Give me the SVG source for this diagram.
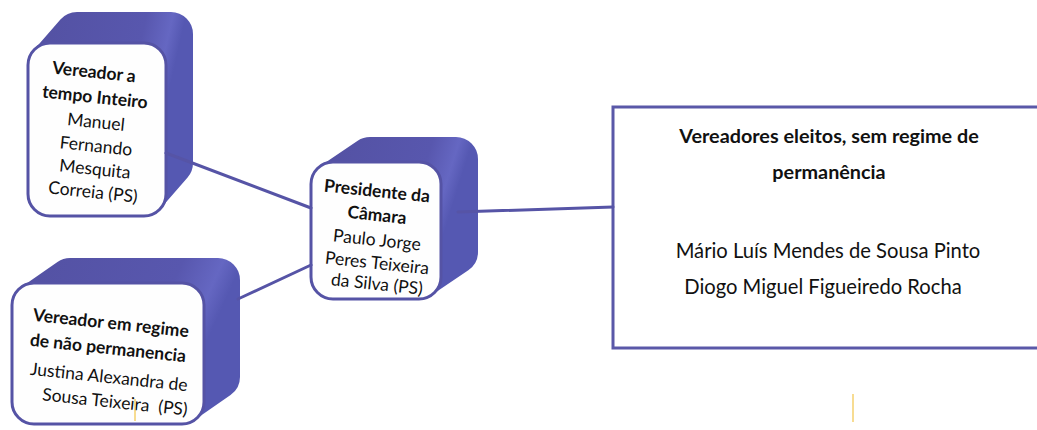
<svg xmlns="http://www.w3.org/2000/svg" width="1037" height="430" viewBox="0 0 1037 430">
<defs>
<linearGradient id="bev" x1="0" y1="0" x2="1" y2="0.3">
<stop offset="0" stop-color="#5452a4"/>
<stop offset="0.7" stop-color="#5857ae"/>
<stop offset="0.9" stop-color="#6567c2"/>
<stop offset="1" stop-color="#5558b2"/>
</linearGradient>
<style>
.ext{fill:url(#bev);stroke:url(#bev);stroke-width:44;stroke-linejoin:round}
.face{fill:#fefefe;stroke:#5553a5;stroke-width:3}
.conn{stroke:#5654a6;stroke-width:3;fill:none;stroke-linecap:round}
.b{font-family:Lato,"Liberation Sans",sans-serif;font-weight:bold;font-size:17.5px;fill:#111;text-anchor:middle}
.r{font-family:Lato,"Liberation Sans",sans-serif;font-size:17.5px;fill:#111;text-anchor:middle}
.rb{font-family:Lato,"Liberation Sans",sans-serif;font-weight:bold;font-size:19.8px;fill:#111;text-anchor:middle}
.rr{font-family:Lato,"Liberation Sans",sans-serif;font-size:20.2px;fill:#111;text-anchor:middle}
</style>
</defs>
<rect width="1037" height="430" fill="#ffffff"/>

<g id="node-vereador-tempo-inteiro">
<polygon class="ext" points="50,65 77,34 171,34 171,163 144,194 50,194"/>
<rect class="face" x="28" y="43" width="138" height="173" rx="22"/>
<text class="b" x="94" y="78" transform="rotate(6 94 72)">Vereador a</text>
<text class="b" x="95" y="103" transform="rotate(6 95 97)">tempo Inteiro</text>
<text class="r" x="96" y="128" transform="rotate(6 96 122)">Manuel</text>
<text class="r" x="96" y="152" transform="rotate(6 96 146)">Fernando</text>
<text class="r" x="95" y="175" transform="rotate(6 95 169)">Mesquita</text>
<text class="r" x="93" y="198" transform="rotate(6 93 192)">Correia (PS)</text>
</g>

<g id="node-presidente">
<polygon class="ext" points="333,184 370,159 456,159 456,252 419,277 333,277"/>
<rect class="face" x="311" y="162" width="130" height="137" rx="22"/>
<text class="b" x="377" y="197" transform="rotate(6 377 191)">Presidente da</text>
<text class="b" x="377" y="221" transform="rotate(6 377 215)">Câmara</text>
<text class="r" x="377" y="246" transform="rotate(6 377 240)">Paulo Jorge</text>
<text class="r" x="377" y="269" transform="rotate(6 377 263)">Peres Teixeira</text>
<text class="r" x="377" y="290" transform="rotate(6 377 284)">da Silva (PS)</text>
</g>

<g id="node-vereador-nao-permanencia">
<polygon class="ext" points="34,305 70,280 218,280 218,377 182,402 34,402"/>
<rect class="face" x="12" y="283" width="192" height="141" rx="22"/>
<text class="b" x="111" y="329" transform="rotate(6 111 323)">Vereador em regime</text>
<text class="b" x="108" y="354" transform="rotate(6 108 348)">de não permanencia</text>
<text class="r" x="109" y="383" transform="rotate(6 109 377)">Justina Alexandra de</text>
<text class="r" x="115" y="408" transform="rotate(6 115 402)" xml:space="preserve">Sousa Teixeira  (PS)</text>
</g>

<g id="node-vereadores-eleitos">
<rect x="613" y="107" width="440" height="241" fill="#ffffff" stroke="#5a58a8" stroke-width="3"/>
<text class="rb" x="829" y="143">Vereadores eleitos, sem regime de</text>
<text class="rb" x="829" y="179">permanência</text>
<text class="rr" x="828" y="258">Mário Luís Mendes de Sousa Pinto</text>
<text class="rr" x="823" y="294">Diogo Miguel Figueiredo Rocha</text>
</g>

<g id="connectors">
<line class="conn" x1="166" y1="153" x2="311" y2="208"/>
<line class="conn" x1="311" y1="265" x2="238" y2="299"/>
<line class="conn" x1="458" y1="212" x2="613" y2="207"/>
</g>

<g id="scan-marks" stroke="#f3c64a" stroke-width="1.5" opacity="0.8">
<line x1="135" y1="399" x2="135" y2="421"/>
<line x1="853" y1="394" x2="853" y2="422"/>
</g>
</svg>
